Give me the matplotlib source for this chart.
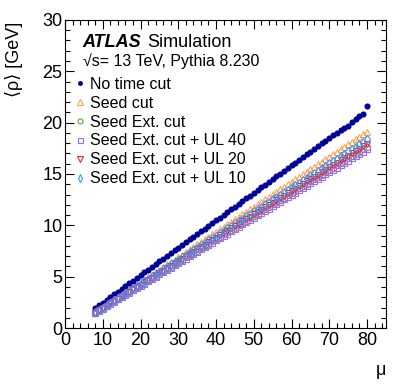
import numpy as np
import matplotlib
matplotlib.use("Agg")
import matplotlib.pyplot as plt
from matplotlib.ticker import MultipleLocator

plt.rcParams['font.family'] = ['Liberation Sans', 'DejaVu Sans']

# average pile-up mu
mu = list(range(8, 81))

no_cut = [1.95, 2.22, 2.48, 2.75, 3.02, 3.29, 3.55, 3.82, 4.09, 4.35,
          4.62, 4.89, 5.15, 5.42, 5.69, 5.96, 6.22, 6.49, 6.76, 7.02,
          7.29, 7.56, 7.82, 8.09, 8.36, 8.63, 8.89, 9.16, 9.43, 9.69,
          9.96, 10.23, 10.49, 10.76, 11.03, 11.30, 11.56, 11.83, 12.10, 12.36,
          12.63, 12.90, 13.16, 13.43, 13.70, 13.97, 14.23, 14.50, 14.77, 15.03,
          15.30, 15.57, 15.83, 16.10, 16.37, 16.64, 16.90, 17.17, 17.44, 17.70,
          17.97, 18.24, 18.50, 18.77, 19.04, 19.31, 19.52, 19.70, 20.05, 20.40,
          20.62, 20.88, 21.60]

seed_cut = [1.55, 1.79, 2.04, 2.28, 2.53, 2.77, 3.01, 3.26, 3.50, 3.75,
            3.99, 4.23, 4.48, 4.72, 4.97, 5.21, 5.45, 5.70, 5.94, 6.19,
            6.43, 6.67, 6.92, 7.16, 7.41, 7.65, 7.89, 8.14, 8.38, 8.63,
            8.87, 9.11, 9.36, 9.60, 9.85, 10.09, 10.33, 10.58, 10.82, 11.07,
            11.31, 11.55, 11.80, 12.04, 12.29, 12.53, 12.77, 13.02, 13.26, 13.51,
            13.75, 13.99, 14.24, 14.48, 14.73, 14.97, 15.21, 15.46, 15.70, 15.95,
            16.19, 16.43, 16.68, 16.92, 17.17, 17.41, 17.65, 17.90, 18.14, 18.39,
            18.63, 18.87, 19.12]

seed_ext = [1.50, 1.72, 1.95, 2.17, 2.40, 2.62, 2.84, 3.07, 3.29, 3.52,
            3.74, 3.96, 4.19, 4.41, 4.64, 4.86, 5.08, 5.31, 5.53, 5.76,
            5.98, 6.20, 6.43, 6.65, 6.88, 7.10, 7.32, 7.55, 7.77, 8.00,
            8.22, 8.44, 8.67, 8.89, 9.12, 9.34, 9.56, 9.79, 10.01, 10.24,
            10.46, 10.68, 10.91, 11.13, 11.36, 11.58, 11.80, 12.03, 12.25, 12.48,
            12.70, 12.92, 13.15, 13.37, 13.60, 13.82, 14.04, 14.27, 14.49, 14.72,
            14.94, 15.16, 15.39, 15.61, 15.84, 16.06, 16.28, 16.51, 16.73, 16.96,
            17.18, 17.40, 17.63]

ul40 = [1.45, 1.67, 1.89, 2.11, 2.34, 2.56, 2.78, 3.00, 3.22, 3.44,
        3.67, 3.89, 4.11, 4.33, 4.55, 4.77, 4.99, 5.22, 5.44, 5.66,
        5.88, 6.10, 6.32, 6.54, 6.77, 6.99, 7.21, 7.43, 7.65, 7.87,
        8.10, 8.32, 8.54, 8.76, 8.98, 9.20, 9.42, 9.65, 9.87, 10.09,
        10.31, 10.53, 10.75, 10.97, 11.20, 11.42, 11.64, 11.86, 12.08, 12.30,
        12.53, 12.75, 12.97, 13.19, 13.41, 13.63, 13.85, 14.08, 14.30, 14.52,
        14.74, 14.96, 15.18, 15.41, 15.63, 15.85, 16.07, 16.29, 16.51, 16.73,
        16.96, 17.18, 17.40]

ul20 = [1.50, 1.73, 1.96, 2.18, 2.41, 2.64, 2.87, 3.10, 3.32, 3.55,
        3.78, 4.01, 4.24, 4.46, 4.69, 4.92, 5.15, 5.38, 5.60, 5.83,
        6.06, 6.29, 6.52, 6.74, 6.97, 7.20, 7.43, 7.66, 7.88, 8.11,
        8.34, 8.57, 8.80, 9.02, 9.25, 9.48, 9.71, 9.94, 10.16, 10.39,
        10.62, 10.85, 11.08, 11.30, 11.53, 11.76, 11.99, 12.22, 12.44, 12.67,
        12.90, 13.13, 13.36, 13.58, 13.81, 14.04, 14.27, 14.50, 14.72, 14.95,
        15.18, 15.41, 15.64, 15.86, 16.09, 16.32, 16.55, 16.78, 17.00, 17.23,
        17.46, 17.69, 17.92]

ul10 = [1.52, 1.75, 1.99, 2.22, 2.46, 2.69, 2.92, 3.16, 3.39, 3.63,
        3.86, 4.09, 4.33, 4.56, 4.80, 5.03, 5.26, 5.50, 5.73, 5.97,
        6.20, 6.43, 6.67, 6.90, 7.14, 7.37, 7.60, 7.84, 8.07, 8.31,
        8.54, 8.77, 9.01, 9.24, 9.48, 9.71, 9.94, 10.18, 10.41, 10.65,
        10.88, 11.11, 11.35, 11.58, 11.82, 12.05, 12.28, 12.52, 12.75, 12.99,
        13.22, 13.45, 13.69, 13.92, 14.16, 14.39, 14.62, 14.86, 15.09, 15.33,
        15.56, 15.79, 16.03, 16.26, 16.50, 16.73, 16.96, 17.20, 17.43, 17.67,
        17.90, 18.13, 18.37]

labels = ["No time cut", "Seed cut", "Seed Ext. cut",
          "Seed Ext. cut + UL 40", "Seed Ext. cut + UL 20", "Seed Ext. cut + UL 10"]

fig = plt.figure(figsize=(4.07, 3.91), dpi=100)
ax = fig.add_axes([0.16, 0.161, 0.788, 0.788])

ax.plot(mu, no_cut, 'o', color='#000099', ms=4.4, mew=0, label=labels[0])
ax.plot(mu, seed_cut, '^', color='#ffa050', ms=5, mfc='none', mew=0.8, label=labels[1])
ax.plot(mu, seed_ext, 'o', color='#55aa33', ms=4.5, mfc='none', mew=0.8, label=labels[2])
ax.plot(mu, ul40, 's', color='#a466ff', ms=4.5, mfc='none', mew=0.8, label=labels[3])
ax.plot(mu, ul20, 'v', color='#ff2020', ms=5, mfc='none', mew=0.8, label=labels[4])
ax.plot(mu, ul10, 'd', color='#3399ff', ms=4.5, mfc='none', mew=0.8, label=labels[5])

ax.set_xlim(0, 85)
ax.set_ylim(0, 30)
ax.xaxis.set_major_locator(MultipleLocator(10))
ax.xaxis.set_minor_locator(MultipleLocator(2))
ax.yaxis.set_major_locator(MultipleLocator(5))
ax.yaxis.set_minor_locator(MultipleLocator(1))
ax.tick_params(which='both', direction='in', top=True, right=True, labelsize=13)
ax.tick_params(which='major', length=6.5, width=0.8)
ax.tick_params(which='minor', length=3.3, width=0.8)
ax.tick_params(axis='x', pad=3)
ax.tick_params(axis='y', pad=2)

ax.set_xlabel("μ", fontsize=13, loc='right')
ax.xaxis.set_label_coords(1.0, -0.11)
ax.set_ylabel("⟨ρ⟩ [GeV]", fontsize=13, loc='top')
ax.yaxis.set_label_coords(-0.13, 0.993)

ax.text(0.055, 0.912, "ATLAS", transform=ax.transAxes, fontsize=13,
        fontweight='bold', fontstyle='italic')
ax.text(0.255, 0.912, "Simulation", transform=ax.transAxes, fontsize=13)
ax.text(0.055, 0.85, "√s= 13 TeV, Pythia 8.230", transform=ax.transAxes, fontsize=11.5)

leg = ax.legend(loc='upper left', bbox_to_anchor=(0.035, 0.815), frameon=False,
                fontsize=11.5, handlelength=0.5, handletextpad=0.35, labelspacing=0.24,
                borderaxespad=0, borderpad=0, markerscale=0.8)

fig.savefig("out.png", dpi=100)
